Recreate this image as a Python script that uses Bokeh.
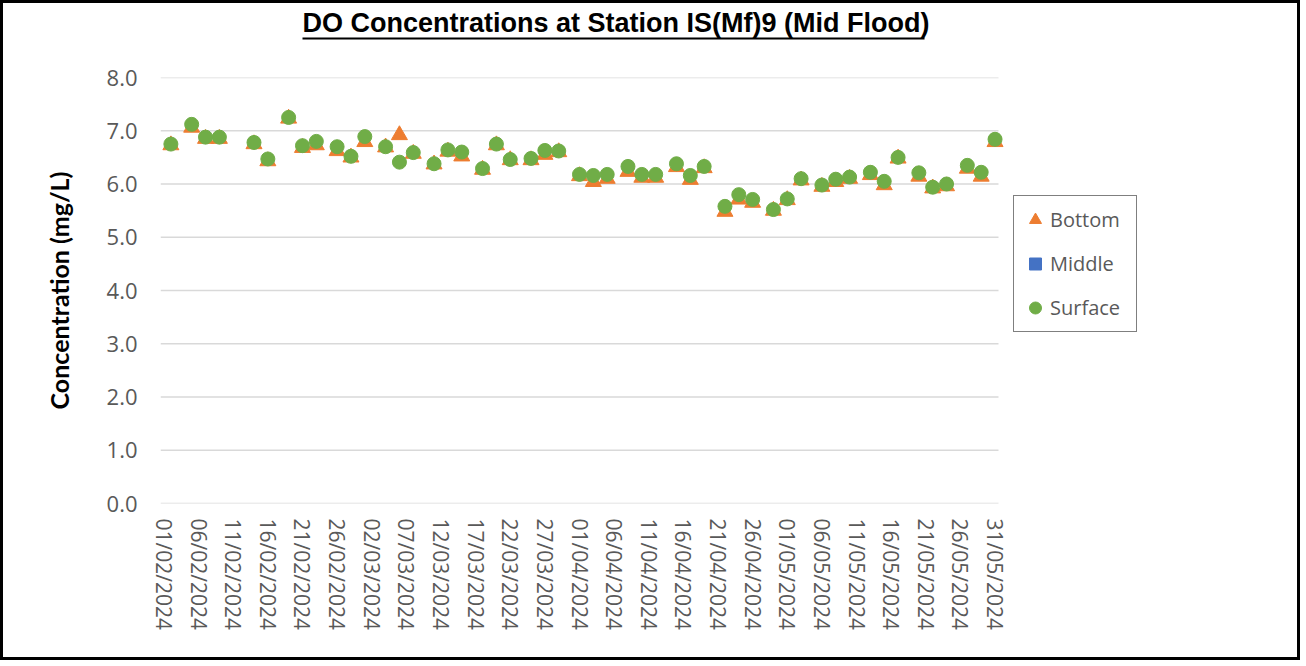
import pandas as pd
from bokeh.plotting import figure
from bokeh.models import (Range1d, FixedTicker, DatetimeTickFormatter, PrintfTickFormatter,
                          Legend, LegendItem, ColorBar, LinearColorMapper)
from bokeh.embed import file_html
from bokeh.resources import INLINE

# ---------------- data ----------------
dates = ["2024-02-02", "2024-02-05", "2024-02-07", "2024-02-09", "2024-02-14", "2024-02-16",
         "2024-02-19", "2024-02-21", "2024-02-23", "2024-02-26", "2024-02-28", "2024-03-01",
         "2024-03-04", "2024-03-06", "2024-03-08", "2024-03-11", "2024-03-13", "2024-03-15",
         "2024-03-18", "2024-03-20", "2024-03-22", "2024-03-25", "2024-03-27", "2024-03-29",
         "2024-04-01", "2024-04-03", "2024-04-05", "2024-04-08", "2024-04-10", "2024-04-12",
         "2024-04-15", "2024-04-17", "2024-04-19", "2024-04-22", "2024-04-24", "2024-04-26",
         "2024-04-29", "2024-05-01", "2024-05-03", "2024-05-06", "2024-05-08", "2024-05-10",
         "2024-05-13", "2024-05-15", "2024-05-17", "2024-05-20", "2024-05-22", "2024-05-24",
         "2024-05-27", "2024-05-29", "2024-05-31"]

surface = [6.75, 7.12, 6.88, 6.88, 6.78, 6.47, 7.25, 6.72, 6.80, 6.70, 6.52, 6.89,
           6.70, 6.41, 6.59, 6.38, 6.64, 6.60, 6.29, 6.75, 6.46, 6.48, 6.63, 6.62,
           6.18, 6.16, 6.18, 6.33, 6.18, 6.18, 6.38, 6.16, 6.33, 5.58, 5.80, 5.71,
           5.52, 5.72, 6.10, 5.98, 6.09, 6.13, 6.22, 6.05, 6.50, 6.21, 5.94, 6.00,
           6.35, 6.22, 6.84]

bottom = [6.73, 7.06, 6.85, 6.85, 6.75, 6.43, 7.23, 6.68, 6.73, 6.62, 6.50, 6.79,
          6.69, 6.92, 6.57, 6.37, 6.61, 6.52, 6.27, 6.73, 6.45, 6.45, 6.55, 6.60,
          6.15, 6.04, 6.10, 6.23, 6.12, 6.12, 6.32, 6.08, 6.30, 5.48, 5.71, 5.65,
          5.50, 5.70, 6.07, 5.95, 6.04, 6.10, 6.17, 5.98, 6.48, 6.14, 5.92, 5.96,
          6.29, 6.14, 6.79]

# the Middle series has no readings in the chart (legend entry only)
middle_dates = ["2024-02-02"]
middle = [None]

x_start = "2024-02-01"
x_end = "2024-05-31"
tick_step_days = 5
y_ticks = [0, 1, 2, 3, 4, 5, 6, 7, 8]

title_text = "DO Concentrations at Station IS(Mf)9 (Mid Flood)"
y_title = "Concentration (mg/L)"

# ---------------- layout constants (pixels on the canvas) ----------------
W, H = 1300, 660
FRAME_LEFT = 157      # left edge of the plotting area
DATA_RIGHT = 995      # right end of the gridlines / last date slot
FRAME_RIGHT = 1147    # frame extends under the legend so the legend is not clipped
FRAME_TOP = 74
FRAME_BOTTOM = 500

# ---------------- figure ----------------
x = pd.to_datetime(dates)
xm = pd.to_datetime(middle_dates)
ym = [float("nan") if v is None else v for v in middle]
t0 = pd.Timestamp(x_start)
t1 = pd.Timestamp(x_end)
half = pd.Timedelta(hours=12)
x_lo = t0 - half
x_hi = t1 + half
extra = (x_hi - x_lo) * ((FRAME_RIGHT - DATA_RIGHT) / (DATA_RIGHT - FRAME_LEFT))

tick_dates = pd.date_range(t0, t1, freq=f"{tick_step_days}D")
tick_ms = [int(d.value // 10**6) for d in tick_dates]

p = figure(width=W, height=H, output_backend="svg", toolbar_location=None,
           x_axis_type="datetime",
           x_range=Range1d(x_lo, x_hi + extra), y_range=Range1d(0, 8),
           min_border_left=FRAME_LEFT, min_border_right=W - FRAME_RIGHT,
           min_border_top=FRAME_TOP, min_border_bottom=H - FRAME_BOTTOM)
p.styles = {"border": "3px solid black"}

p.outline_line_color = None
p.background_fill_color = "white"
p.border_fill_color = "white"

# title
p.title.text = title_text
p.title.text_font = "Liberation Sans"
p.title.text_font_style = "bold"
p.title.text_font_size = "27px"
p.title.text_color = "black"
p.title.align = "left"
p.title.offset = 142
p.title.standoff = 0

# underline for the title: a thin solid black bar
ul = ColorBar(color_mapper=LinearColorMapper(palette=["#000000"], low=0, high=1),
              orientation="horizontal", width=622, height=2, location=(142, 38),
              ticker=FixedTicker(ticks=[]), padding=0, margin=0,
              bar_line_color=None, border_line_color=None,
              background_fill_alpha=0, major_tick_line_color=None, minor_tick_line_color=None)
p.add_layout(ul, "above")

# axes
xa = p.xaxis[0]
xa.ticker = FixedTicker(ticks=tick_ms)
fmt = "%d/%m/%Y"
xa.formatter = DatetimeTickFormatter(microseconds=fmt, milliseconds=fmt, seconds=fmt, minsec=fmt,
                                     minutes=fmt, hourmin=fmt, hours=fmt, days=fmt, months=fmt,
                                     years=fmt)
xa.major_label_orientation = -1.5707963267948966
xa.major_label_text_font = "Open Sans"
xa.major_label_text_font_size = "21px"
xa.major_label_text_color = "#595959"
xa.major_label_standoff = 9
xa.axis_line_color = None
xa.major_tick_line_color = None
xa.minor_tick_line_color = None

ya = p.yaxis[0]
ya.ticker = FixedTicker(ticks=y_ticks)
ya.formatter = PrintfTickFormatter(format="%.1f")
ya.major_label_text_font = "Open Sans"
ya.major_label_text_font_size = "22px"
ya.major_label_text_color = "#595959"
ya.major_label_standoff = 17
ya.axis_line_color = None
ya.major_tick_line_color = None
ya.minor_tick_line_color = None
ya.axis_label = y_title
ya.axis_label_text_font = "Lato"
ya.axis_label_text_font_style = "bold"
ya.axis_label_text_font_size = "25px"
ya.axis_label_text_color = "black"
ya.axis_label_standoff = 30

# horizontal gridlines limited to the date span
p.xgrid.grid_line_color = None
p.ygrid.grid_line_color = None
p.segment(x0=[x_lo] * len(y_ticks), x1=[x_hi] * len(y_ticks), y0=y_ticks, y1=y_ticks,
          line_color="#d9d9d9", line_width=1.5)

# series
r_bot = p.scatter(x, bottom, marker="triangle", size=16, fill_color="#ED7D31", line_color="#ED7D31")
r_mid = p.scatter(xm, ym, marker="square", size=12, fill_color="#4472C4", line_color="#4472C4")
r_sur = p.scatter(x, surface, marker="circle", size=14, fill_color="#70AD47", line_color="#70AD47")

legend = Legend(items=[LegendItem(label="Bottom", renderers=[r_bot]),
                       LegendItem(label="Middle", renderers=[r_mid]),
                       LegendItem(label="Surface", renderers=[r_sur])],
                location=(1010 - FRAME_LEFT, FRAME_BOTTOM - 329), orientation="vertical",
                label_text_font="Open Sans", label_text_font_size="20px", label_text_color="#595959",
                glyph_width=30, glyph_height=35, label_height=35, label_width=80, label_standoff=0,
                spacing=9, padding=6, margin=0,
                border_line_color="black", border_line_width=1.5,
                background_fill_color="white", background_fill_alpha=1)
p.add_layout(legend, "center")

open("out.html", "w").write(file_html(p, INLINE))
